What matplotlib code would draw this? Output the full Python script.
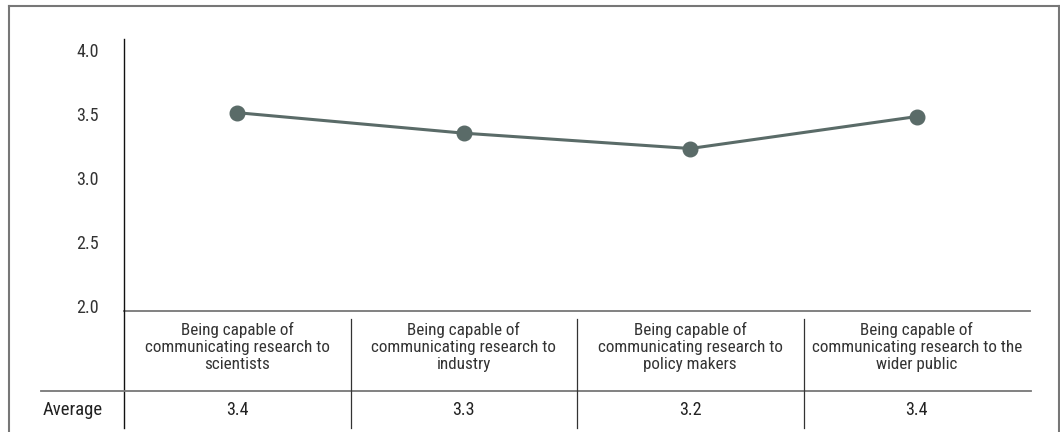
import matplotlib
matplotlib.use("Agg")
import matplotlib.pyplot as plt
from matplotlib.lines import Line2D

plt.rcParams['font.family'] = ['Roboto Condensed', 'Archivo Narrow', 'DejaVu Sans']

categories = [
    "Being capable of\ncommunicating research to\nscientists",
    "Being capable of\ncommunicating research to\nindustry",
    "Being capable of\ncommunicating research to\npolicy makers",
    "Being capable of\ncommunicating research to the\nwider public",
]
values = [3.51, 3.35, 3.23, 3.48]
averages = ["3.4", "3.3", "3.2", "3.4"]
row_label = "Average"
yticks = [2.0, 2.5, 3.0, 3.5, 4.0]

W, H = 1060, 432
fig = plt.figure(figsize=(W / 100, H / 100), dpi=100)

def fx(px):
    return px / W

def fy(py):
    return 1 - py / H

ax_left, ax_right, ax_top, ax_bot = 124, 1030, 39, 311
ax = fig.add_axes([fx(ax_left), fy(ax_bot), fx(ax_right - ax_left), (ax_bot - ax_top) / H])

line_color = "#5a6b68"
x = list(range(len(values)))
ax.plot(x, values, color=line_color, lw=2.2, marker='o', ms=10.5, zorder=3)
ax.set_xlim(-0.5, len(values) - 0.5)
ax.set_ylim(1.96, 4.086)
ax.set_yticks(yticks)
ax.set_yticklabels([f"{t:.1f}" for t in yticks])
ax.set_xticks([])
ax.tick_params(axis='y', length=0, pad=18, labelsize=13, labelcolor="#333333")
for s in ['top', 'right']:
    ax.spines[s].set_visible(False)
ax.spines['left'].set_visible(False)
ax.spines['bottom'].set_color("#777777")
ax.spines['bottom'].set_linewidth(1.3)

def fline(x0, y0, x1, y1, color, lw):
    fig.add_artist(Line2D([fx(x0), fx(x1)], [fy(y0), fy(y1)], color=color, lw=lw))

fline(124, 39, 124, 428, "#111111", 1.0)
fline(41, 391, 1031, 391, "#777777", 1.3)
col_w = (ax_right - ax_left) / len(values)
for i in range(1, len(values)):
    xc = ax_left + i * col_w
    fline(xc, 319, xc, 428, "#333333", 0.9)

for i, (cat, av) in enumerate(zip(categories, averages)):
    xc = ax_left + (i + 0.5) * col_w
    fig.text(fx(xc), fy(347), cat, ha='center', va='center', fontsize=12.3,
             color="#333333", linespacing=1.17)
    fig.text(fx(xc), fy(410), av, ha='center', va='center', fontsize=13,
             color="#222222")
fig.text(fx(73), fy(410), row_label, ha='center', va='center', fontsize=13.5, color="#222222")

fline(9, 5.5, 1059, 5.5, "#777777", 1.5)
fline(9, 5.5, 9, 432, "#777777", 1.5)
fline(1059, 5.5, 1059, 432, "#777777", 1.5)

fig.savefig("out.png", dpi=100)
